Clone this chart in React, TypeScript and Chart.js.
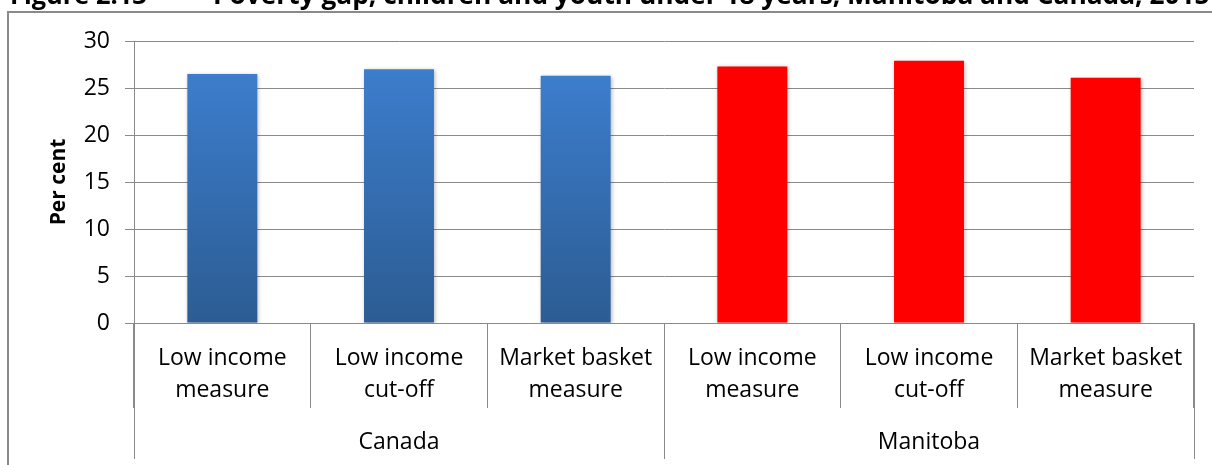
import React, { useEffect, useRef } from "react";
import { Chart, registerables } from "chart.js";

Chart.register(...registerables);

// ---- data ----
const TITLE_PREFIX = "Figure 2.13";
const TITLE_TEXT = "Poverty gap, children and youth under 18 years, Manitoba and Canada, 2015";
const Y_TITLE = "Per cent";
const GROUPS = ["Canada", "Manitoba"];
const MEASURES: string[][] = [
  ["Low income", "measure"],
  ["Low income", "cut-off"],
  ["Market basket", "measure"],
];
const CANADA_VALUES = [26.5, 27.0, 26.3];
const MANITOBA_VALUES = [27.3, 27.9, 26.1];
const Y_MIN = 0;
const Y_MAX = 30;
const Y_STEP = 5;

const CATEGORIES = [...MEASURES, ...MEASURES];
const VALUES = [...CANADA_VALUES, ...MANITOBA_VALUES];

// ---- style ----
const FONT = "'Open Sans', sans-serif";
const GRID = "#8a8a8a";
const BLUE_TOP = "#3c7dcc";
const BLUE_BOTTOM = "#2c5c93";
const RED = "#ff0000";

function fitText(ctx: CanvasRenderingContext2D, text: string, x0: number, x1: number, y: number) {
  let size = 22;
  ctx.font = `bold ${size}px ${FONT}`;
  const w = ctx.measureText(text).width;
  size = (size * (x1 - x0)) / w;
  ctx.font = `bold ${size}px ${FONT}`;
  ctx.fillText(text, x0, y);
}

const decorPlugin = {
  id: "decor",
  beforeDatasetsDraw(chart: any) {
    const ctx = chart.ctx;
    ctx.save();
    ctx.shadowColor = "rgba(0,0,0,0.28)";
    ctx.shadowBlur = 4;
    ctx.shadowOffsetX = 1;
    ctx.shadowOffsetY = 1;
  },
  afterDatasetsDraw(chart: any) {
    chart.ctx.restore();
  },
  afterDraw(chart: any) {
    const { ctx, scales, chartArea } = chart;
    const x = scales.x;
    const per = MEASURES.length;
    const half = (x.getPixelForValue(1) - x.getPixelForValue(0)) / 2;
    ctx.save();
    // group separators and labels
    ctx.strokeStyle = GRID;
    ctx.lineWidth = 1;
    GROUPS.forEach((g, gi) => {
      const left = x.getPixelForValue(gi * per) - half;
      const right = x.getPixelForValue(gi * per + per - 1) + half;
      [left, right].forEach((px) => {
        const xx = Math.round(px) + 0.5;
        ctx.beginPath();
        ctx.moveTo(xx, chartArea.bottom);
        ctx.lineTo(xx, chartArea.bottom + 136);
        ctx.stroke();
      });
      ctx.fillStyle = "#000";
      ctx.font = `23px ${FONT}`;
      ctx.textAlign = "center";
      ctx.textBaseline = "middle";
      ctx.fillText(g, (left + right) / 2, chartArea.bottom + 119);
    });
    // outer frame
    ctx.strokeStyle = "#8a8a8a";
    ctx.lineWidth = 2;
    ctx.strokeRect(8, 12, 1240, 500);
    // clipped title
    ctx.fillStyle = "#000";
    ctx.textAlign = "left";
    ctx.textBaseline = "alphabetic";
    fitText(ctx, TITLE_PREFIX, 10, 147, 4);
    fitText(ctx, TITLE_TEXT, 213, 1210, 4);
    ctx.restore();
  },
};

export default function App() {
  const ref = useRef<HTMLCanvasElement | null>(null);
  useEffect(() => {
    if (!ref.current) return;
    const chart = new Chart(ref.current, {
      type: "bar",
      data: {
        labels: CATEGORIES,
        datasets: [
          {
            data: VALUES,
            backgroundColor: (c: any) => {
              const i = c.dataIndex;
              if (Math.floor(i / MEASURES.length) === 1) return RED;
              const chartObj = c.chart;
              if (!chartObj.chartArea || c.raw == null) return BLUE_TOP;
              const ys = chartObj.scales.y;
              const top = ys.getPixelForValue(c.raw);
              const bottom = ys.getPixelForValue(0);
              const g = chartObj.ctx.createLinearGradient(0, top, 0, bottom);
              g.addColorStop(0, BLUE_TOP);
              g.addColorStop(1, BLUE_BOTTOM);
              return g;
            },
            borderWidth: 0,
            categoryPercentage: 1,
            barPercentage: 0.396,
          },
        ],
      },
      options: {
        animation: false,
        responsive: true,
        maintainAspectRatio: false,
        layout: { padding: { left: 0, right: 18, top: 41, bottom: 0 } },
        plugins: {
          legend: { display: false },
          tooltip: { enabled: false },
          title: { display: false },
        },
        scales: {
          x: {
            ticks: {
              color: "#000",
              font: { family: FONT, size: 23, lineHeight: 1.4 },
              padding: -66,
              autoSkip: false,
              maxRotation: 0,
              minRotation: 0,
            },
            grid: {
              display: true,
              offset: true,
              drawOnChartArea: false,
              drawTicks: true,
              tickLength: 85,
              color: GRID,
              lineWidth: 1,
            },
            border: { display: true, color: GRID, width: 1 },
            afterFit: (s: any) => {
              s.height = 142;
            },
          },
          y: {
            min: Y_MIN,
            max: Y_MAX,
            ticks: {
              stepSize: Y_STEP,
              color: "#000",
              font: { family: FONT, size: 23 },
              padding: 15,
            },
            grid: { color: GRID, lineWidth: 1, tickLength: 9, drawTicks: true },
            border: { display: true, color: GRID, width: 1 },
            title: {
              display: true,
              text: Y_TITLE,
              color: "#000",
              font: { family: FONT, size: 21, weight: "bold" },
              padding: { top: 46, bottom: 0 },
            },
            afterFit: (s: any) => {
              s.width = 134;
            },
          },
        },
      },
      plugins: [decorPlugin],
    });
    return () => chart.destroy();
  }, []);
  return (
    <div style={{ position: "fixed", left: 0, top: 0, width: 1212, height: 465, background: "#fff" }}>
      <canvas ref={ref} />
    </div>
  );
}
